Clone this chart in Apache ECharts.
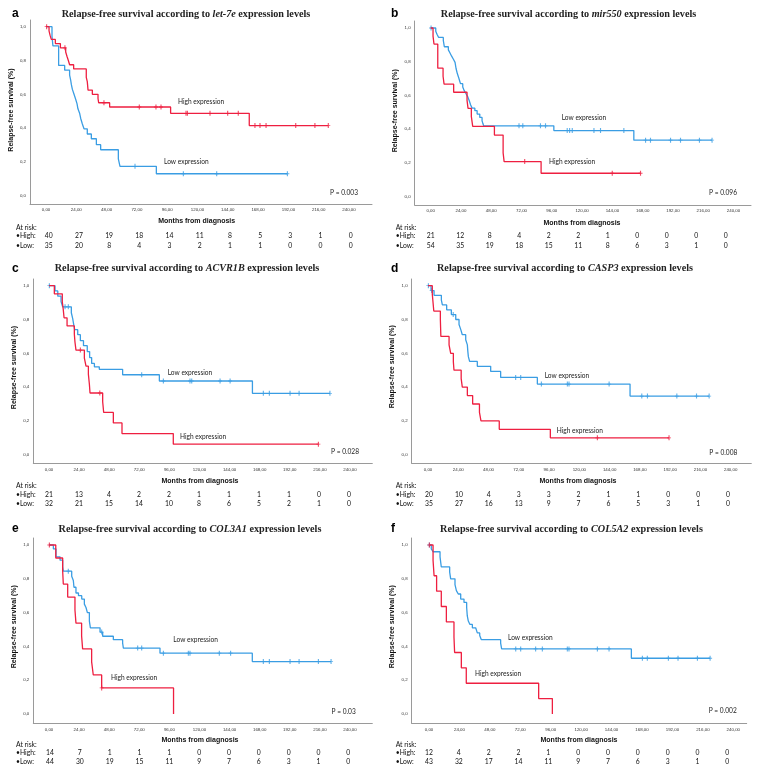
<!DOCTYPE html>
<html><head><meta charset="utf-8">
<script src="https://cdn.jsdelivr.net/npm/echarts@6/dist/echarts.min.js"></script>
<style>html,body{margin:0;padding:0;background:#fff}#c{width:758px;height:778px}</style>
</head><body><div id="c"></div>
<script>
// ---------- shared ticks / labels ----------
const xTickValues = [0,24,48,72,96,120,144,168,192,216,240];
const yTickValues = [0,0.2,0.4,0.6,0.8,1.0];
const riskRowLabels = ['At risk:','\u2022High:','\u2022Low:'];
const panelLetters = ['a','b','c','d','e','f'];
const panelGenes = ['let-7e','mir550','ACVR1B','CASP3','COL3A1','COL5A2'];
const pValues = ['P = 0.003','P = 0.096','P = 0.028','P = 0.008','P = 0.03','P = 0.002'];

// ---------- panel a ----------
const aHighT = [0,2.4,3.2,4.2,7.4,11.4,15.6,16.6,17.7,18.7,21.9,31.9,32.7,33.3,36.7,41.2,41.7,50.4,98.7,161];
const aHighS = [1,0.975,0.95,0.925,0.90,0.875,0.85,0.825,0.80,0.775,0.75,0.70,0.675,0.625,0.60,0.575,0.55,0.525,0.4875,0.415];
const aHighCens = [0.5,15,45.9,73.9,87.1,91.1,110.9,112,129.9,143.9,152.3,165.5,169.5,174.3,197.8,213,223.6];
const aLowT = [0,4.75,5.5,10.0,14.8,18.7,19.5,20.1,20.9,22.2,23.5,24.6,25.3,26.7,27.5,28.8,30.1,32.7,35.9,39.9,43.3,57.3,58.6,87.4];
const aLowS = [1,0.943,0.886,0.771,0.743,0.714,0.686,0.657,0.629,0.60,0.571,0.543,0.514,0.486,0.457,0.424,0.396,0.365,0.337,0.302,0.272,0.218,0.174,0.130];
const aLowCens = [70.5,108.8,135.2,191.2];
const aHighRisk = [40,27,19,18,14,11,8,5,3,1,0];
const aLowRisk = [35,20,8,4,3,2,1,1,0,0,0];

// ---------- panel b ----------
const bHighT = [0,1.85,2.6,5.6,9.8,10.6,18.2,28.8,29.6,32.2,33.3,50.5,57.4,58.2,87.5];
const bHighS = [1,0.952,0.905,0.762,0.714,0.667,0.619,0.571,0.524,0.476,0.417,0.365,0.26,0.208,0.139];
const bHighCens = [74.5,143.9,166.3];
const bLowT = [0,4.0,5.0,6.3,10.0,10.8,14.0,15.3,16.6,18.0,19.3,20.1,21.1,22.0,22.8,23.6,25.4,26.5,28.0,29.5,30.5,31.6,32.8,35.0,36.8,38.9,40.7,41.3,42.0,97.6,161];
const bLowS = [1,0.981,0.963,0.944,0.926,0.889,0.87,0.852,0.833,0.815,0.796,0.76,0.73,0.71,0.69,0.67,0.65,0.63,0.61,0.59,0.57,0.545,0.525,0.51,0.49,0.47,0.45,0.435,0.42,0.392,0.335];
const bLowCens = [0.3,70,73,87,91,108.2,110.1,112.2,129.4,134.6,153.1,170.3,174.2,190.1,198,213,223];
const bHighRisk = [21,12,8,4,2,2,1,0,0,0,0];
const bLowRisk = [54,35,19,18,15,11,8,6,3,1,0];

// ---------- panel c ----------
const cHighT = [0,4.25,10.6,11.4,12.0,14.4,20.2,20.7,21.5,28.2,29.5,31.4,32.2,32.7,42.8,43.6,51.3,58.2,99.1];
const cHighS = [1,0.952,0.905,0.857,0.81,0.762,0.714,0.667,0.619,0.571,0.524,0.476,0.417,0.365,0.313,0.25,0.188,0.125,0.0625];
const cHighCens = [25,40.5,214.8];
const cLowT = [0,4.8,7.0,9.6,10.9,17.8,18.9,19.7,20.5,22.9,25.0,27.5,30.5,32.4,34.0,36.2,40.1,58.7,88,162.2];
const cLowS = [1,0.969,0.938,0.906,0.875,0.84,0.805,0.77,0.74,0.71,0.675,0.645,0.61,0.575,0.54,0.52,0.505,0.473,0.436,0.363];
const cLowCens = [0.3,12.8,15.4,73.9,91.2,112.4,113.8,136.4,144.4,170.9,175.7,192.2,199.4,224];
const cHighRisk = [21,13,4,2,2,1,1,1,1,0,0];
const cLowRisk = [32,21,15,14,10,8,6,5,2,1,0];

// ---------- panel d ----------
const dHighT = [0,3.4,4.6,9.8,10.2,16.7,18.0,20.1,20.6,26.3,27.2,31.2,35.4,40.8,42.0,56.5,97];
const dHighS = [1,0.95,0.85,0.80,0.70,0.65,0.60,0.55,0.50,0.45,0.40,0.35,0.30,0.25,0.20,0.15,0.10];
const dHighCens = [134.3,191.1];
const dLowT = [0,2.4,4.8,10.6,11.4,14.8,18.5,22,24.6,26,27.2,29.9,31.2,31.6,32.0,33.0,39.1,49.7,57.6,86.7,160.2];
const dLowS = [1,0.971,0.943,0.914,0.886,0.857,0.829,0.80,0.77,0.74,0.71,0.68,0.65,0.61,0.58,0.552,0.523,0.493,0.457,0.418,0.347];
const dLowCens = [0.3,2.9,20,69.5,73.5,89.9,110.5,111.8,143.6,169.5,174,197.3,212.9,222.9];
const dHighRisk = [20,10,4,3,3,2,1,1,0,0,0];
const dLowRisk = [35,27,16,13,9,7,6,5,3,1,0];

// ---------- panel e ----------
const eHighT = [0,5.4,10.9,11.4,14.9,20.7,21.5,26.0,26.8,34.0,35.3,42.0,99.3];
const eHighS = [1,0.923,0.846,0.769,0.692,0.615,0.538,0.462,0.385,0.308,0.231,0.154,0];
const eHighCens = [0.3,42.0];
const eLowT = [0,3.5,5.6,8.8,10.9,11.4,18.1,19.4,19.9,21.5,23.5,26.1,28.2,29.5,30.6,32.2,33.0,40.7,42.8,51.3,58.7,59.3,88.5,162.1];
const eLowS = [1,0.977,0.93,0.91,0.87,0.845,0.815,0.79,0.75,0.716,0.70,0.68,0.65,0.63,0.60,0.55,0.51,0.485,0.46,0.44,0.42,0.39,0.36,0.31];
const eLowCens = [15.4,42,70.7,73.9,91.2,111.1,112.4,135.8,144.8,170.9,175.7,192.2,199.4,214.8,224.9];
const eHighRisk = [14,7,1,1,1,0,0,0,0,0,0];
const eLowRisk = [44,30,19,15,11,9,7,6,3,1,0];

// ---------- panel f ----------
const fHighT = [0,3.2,4.0,6.0,9.7,13.7,19.7,20.2,25.5,29.4,86.5,97.3];
const fHighS = [1,0.909,0.818,0.727,0.636,0.545,0.455,0.364,0.273,0.182,0.091,0];
const fHighCens = [0.3];
const fLowT = [0,1.8,3.2,8.7,9.7,16.3,17.1,20.5,21.6,23.1,25.0,27.6,29.7,30.2,31.0,32.3,34.2,36.8,38.1,40.0,41.3,56.5,57.3,159.6];
const fLowS = [1,0.977,0.96,0.93,0.87,0.84,0.80,0.765,0.73,0.71,0.68,0.66,0.63,0.58,0.55,0.53,0.51,0.50,0.48,0.465,0.44,0.42,0.385,0.33];
const fLowCens = [0.3,68.4,72.3,84.1,89.4,109.1,110.4,132.8,142.0,168.3,172.2,188.8,196.4,211.7,221.7];
const fHighRisk = [12,4,2,2,1,0,0,0,0,0,0];
const fLowRisk = [43,32,17,14,11,9,7,6,3,1,0];

// ---------- assemble ----------
const panels = [
  {hT:aHighT,hS:aHighS,hC:aHighCens,lT:aLowT,lS:aLowS,lC:aLowCens,hR:aHighRisk,lR:aLowRisk},
  {hT:bHighT,hS:bHighS,hC:bHighCens,lT:bLowT,lS:bLowS,lC:bLowCens,hR:bHighRisk,lR:bLowRisk},
  {hT:cHighT,hS:cHighS,hC:cHighCens,lT:cLowT,lS:cLowS,lC:cLowCens,hR:cHighRisk,lR:cLowRisk},
  {hT:dHighT,hS:dHighS,hC:dHighCens,lT:dLowT,lS:dLowS,lC:dLowCens,hR:dHighRisk,lR:dLowRisk},
  {hT:eHighT,hS:eHighS,hC:eHighCens,lT:eLowT,lS:eLowS,lC:eLowCens,hR:eHighRisk,lR:eLowRisk},
  {hT:fHighT,hS:fHighS,hC:fHighCens,lT:fLowT,lS:fLowS,lC:fLowCens,hR:fHighRisk,lR:fLowRisk}
];

// layout (pixel positions)
const L = [
 {x0:46,x240:349,y1:26.7,y0:195.7,ax:30,ay:204,rx:372,ty:20,let:[12,14],tt:[186,14],yt:[11,110],xt:[196.7,221],hi:[178,101.7],lo:[164,161.7],p:[358,192.7],rx0:16,ry:[228,236,246],cols:[48.7,350.7]},
 {x0:430.7,x240:733.5,y1:28,y0:196.7,ax:414.7,ay:205,rx:751,ty:21,let:[391,14],tt:[568.5,14],yt:[394.7,110.7],xt:[582,223],hi:[549,162.3],lo:[561.7,118.3],p:[737,192.7],rx0:395.7,ry:[228,236,246],cols:[430.7,725.7]},
 {x0:49,x240:350,y1:285.7,y0:454.7,ax:33.3,ay:463.3,rx:372.3,ty:279,let:[12,268.3],tt:[187,268.3],yt:[14,367.5],xt:[200,481],hi:[180,437],lo:[167.7,372.7],p:[359,452.3],rx0:16,ry:[486,495,504],cols:[49,349]},
 {x0:428,x240:730.7,y1:285.7,y0:454.7,ax:411.7,ay:463.3,rx:751.3,ty:279,let:[391,268.3],tt:[565,268.7],yt:[392.3,366.7],xt:[578,481],hi:[556.7,430.7],lo:[544.7,375.7],p:[737.3,452.7],rx0:395.7,ry:[486,495,504],cols:[429,728]},
 {x0:49,x240:350,y1:545,y0:714,ax:33.3,ay:723.3,rx:372.3,ty:538,let:[12,529],tt:[190,529],yt:[14,626.7],xt:[200,740.5],hi:[111,677.7],lo:[173.3,640],p:[355.7,711.7],rx0:16,ry:[744.5,753,762],cols:[50,348.3]},
 {x0:429,x240:733.3,y1:545,y0:714,ax:411.7,ay:723.3,rx:746.7,ty:538,let:[391,529],tt:[571.5,529],yt:[392.3,626.7],xt:[579,740.5],hi:[475,673.7],lo:[508,638.3],p:[736.7,711],rx0:395.7,ry:[744.5,753,762],cols:[429,727.3]}
];

const RED = '#ee1f40', BLUE = '#3a9de3';
const PLUS = 'path://M0,4.2H10V5.8H0Z M3.6,0H6.4V10H3.6Z';
const SANS = 'Liberation Sans', SOFT = 'Lato', SERIF = 'Liberation Serif';

function survAt(T,S,t){ let s=S[0]; for(let i=0;i<T.length;i++){ if(T[i]<=t) s=S[i]; } return s; }
function curve(T,S,C){
  const d = T.map((t,i)=>[t,S[i]]);
  const last = C.length ? Math.max.apply(null,C) : -1;
  if (last > T[T.length-1]) d.push([last, S[S.length-1]]);
  return d;
}

const grids=[], xAxes=[], yAxes=[], series=[], elements=[];
const axisCol = '#9a9a9a';
panels.forEach((P,i)=>{
  const g = L[i];
  const ppm = (g.x240-g.x0)/240, ppu = g.y0-g.y1;
  grids.push({left:g.ax, top:g.ty, width:g.rx-g.ax, height:g.ay-g.ty, containLabel:false});
  xAxes.push({gridIndex:i, type:'value', min:-(g.x0-g.ax)/ppm, max:(g.rx-g.x0)/ppm,
    axisLine:{show:true,onZero:false,lineStyle:{color:axisCol,width:1}}, axisTick:{show:false}, splitLine:{show:false},
    axisLabel:{customValues:xTickValues, formatter:v=>v.toFixed(2).replace('.',','), fontSize:4.4, color:'#333', margin:4, fontFamily:SANS}});
  yAxes.push({gridIndex:i, type:'value', min:-(g.ay-g.y0)/ppu, max:1+(g.y1-g.ty)/ppu,
    axisLine:{show:true,onZero:false,lineStyle:{color:axisCol,width:1}}, axisTick:{show:false}, splitLine:{show:false},
    axisLabel:{customValues:yTickValues, formatter:v=>v.toFixed(1).replace('.',','), fontSize:4.4, color:'#333', margin:4, fontFamily:SANS}});
  [[P.lT,P.lS,P.lC,BLUE],[P.hT,P.hS,P.hC,RED]].forEach(([T,S,C,col])=>{
    series.push({type:'line', xAxisIndex:i, yAxisIndex:i, data:curve(T,S,C), step:'end', symbol:'none',
      lineStyle:{color:col,width:1.3}, silent:true, animation:false});
    series.push({type:'scatter', xAxisIndex:i, yAxisIndex:i, data:C.map(t=>[t,survAt(T,S,t)]),
      symbol:PLUS, symbolSize:[4,5], itemStyle:{color:col}, silent:true, animation:false});
  });
  // texts
  elements.push({type:'text', x:g.let[0], y:g.let[1], style:{text:panelLetters[i], font:'bold 12px "Liberation Sans"', fill:'#000', verticalAlign:'middle'}});
  elements.push({type:'text', x:g.tt[0], y:g.tt[1], style:{
    text:'{n|Relapse-free survival according to }{i|'+panelGenes[i]+'}{n| expression levels}',
    align:'center', verticalAlign:'middle',
    rich:{n:{fontFamily:SERIF,fontWeight:'bold',fontSize:10.2,fill:'#222'}, i:{fontFamily:SERIF,fontWeight:'bold',fontStyle:'italic',fontSize:10.2,fill:'#222'}}}});
  elements.push({type:'text', x:g.yt[0], y:g.yt[1], rotation:Math.PI/2, style:{text:'Relapse-free survival (%)', font:'bold 7px "Liberation Sans"', fill:'#111', align:'center', verticalAlign:'middle'}});
  elements.push({type:'text', x:g.xt[0], y:g.xt[1], style:{text:'Months from diagnosis', font:'bold 7px "Liberation Sans"', fill:'#111', align:'center', verticalAlign:'middle'}});
  elements.push({type:'text', x:g.hi[0], y:g.hi[1], style:{text:'High expression', font:'6.6px Lato', fill:'#222', verticalAlign:'middle'}});
  elements.push({type:'text', x:g.lo[0], y:g.lo[1], style:{text:'Low expression', font:'6.6px Lato', fill:'#222', verticalAlign:'middle'}});
  elements.push({type:'text', x:g.p[0], y:g.p[1], style:{text:pValues[i], font:'6.6px Lato', fill:'#222', align:'right', verticalAlign:'middle'}});
  riskRowLabels.forEach((t,k)=>{
    elements.push({type:'text', x:g.rx0, y:g.ry[k], style:{text:t, font:'6.8px Lato', fill:'#111', verticalAlign:'middle'}});
  });
  [P.hR,P.lR].forEach((row,k)=>{
    row.forEach((v,j)=>{
      const x = g.cols[0] + j*(g.cols[1]-g.cols[0])/(row.length-1);
      elements.push({type:'text', x:x, y:g.ry[k+1], style:{text:String(v), font:'6.8px Lato', fill:'#111', align:'center', verticalAlign:'middle'}});
    });
  });
});

const chart = echarts.init(document.getElementById('c'), null, {renderer:'canvas', width:758, height:778});
chart.setOption({
  animation:false,
  backgroundColor:'#fff',
  grid:grids, xAxis:xAxes, yAxis:yAxes, series:series,
  graphic:{elements:elements}
});
</script>
</body></html>
